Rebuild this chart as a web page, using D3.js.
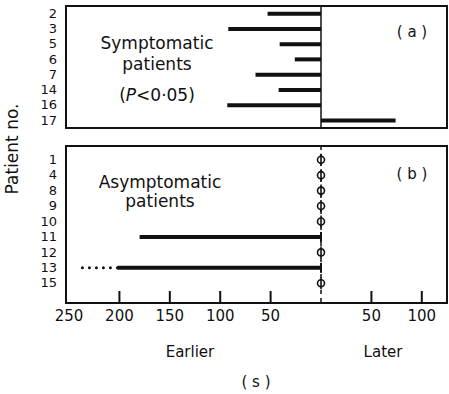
<!DOCTYPE html>
<html>
<head>
<meta charset="utf-8">
<script src="https://cdn.jsdelivr.net/npm/d3@7"></script>
<style>
  body { margin: 0; background: #fff; }
  text { font-family: "DejaVu Sans", sans-serif; fill: #111; }
</style>
</head>
<body>
<div id="chart"></div>
<script>
// panel (a): symptomatic patients
const patientsA = ["2", "3", "5", "6", "7", "14", "16", "17"];
const valuesA = [-53, -92, -41, -26, -65, -42, -93, 74];

// panel (b): asymptomatic patients (0 = no difference, drawn as phi)
const patientsB = ["1", "4", "8", "9", "10", "11", "12", "13", "15"];
const valuesB = [0, 0, 0, 0, 0, -180, 0, -202, 0];
const dottedB = [null, null, null, null, null, null, null, -238, null];

const xTicks = [-250, -200, -150, -100, -50, 0, 50, 100];

const width = 449;
const height = 394;

const svg = d3.select("#chart")
    .append("svg")
    .attr("width", width)
    .attr("height", height);

const x = d3.scaleLinear()
    .domain([-253, 125])
    .range([66, 447]);

const yA = d3.scaleBand()
    .domain(patientsA)
    .range([6, 128]);

const yB = d3.scaleBand()
    .domain(patientsB)
    .range([152, 291]);

// frames
svg.append("rect")
    .attr("x", x.range()[0]).attr("y", 6)
    .attr("width", x.range()[1] - x.range()[0]).attr("height", 122)
    .attr("fill", "none").attr("stroke", "#111").attr("stroke-width", 2);

svg.append("rect")
    .attr("x", x.range()[0]).attr("y", 146)
    .attr("width", x.range()[1] - x.range()[0]).attr("height", 157)
    .attr("fill", "none").attr("stroke", "#111").attr("stroke-width", 2);

// zero lines
svg.append("line")
    .attr("x1", x(0)).attr("x2", x(0))
    .attr("y1", 6).attr("y2", 128)
    .attr("stroke", "#111").attr("stroke-width", 1.5);

svg.append("line")
    .attr("x1", x(0)).attr("x2", x(0))
    .attr("y1", 146).attr("y2", 303)
    .attr("stroke", "#111").attr("stroke-width", 1.5)
    .attr("stroke-dasharray", "4,4");

// y axes (patient numbers)
const axA = svg.append("g")
    .attr("transform", "translate(" + (x.range()[0] - 7) + ",0)")
    .call(d3.axisLeft(yA).tickSize(0).tickPadding(2));
const axB = svg.append("g")
    .attr("transform", "translate(" + (x.range()[0] - 7) + ",0)")
    .call(d3.axisLeft(yB).tickSize(0).tickPadding(2));
[axA, axB].forEach(ax => {
    ax.select(".domain").remove();
    ax.selectAll("text")
        .attr("font-size", 13)
        .attr("font-family", "DejaVu Sans")
        .attr("fill", "#111");
});

// bars panel (a)
const dataA = patientsA.map((p, i) => ({ p: p, v: valuesA[i] }));
svg.selectAll(null)
    .data(dataA)
    .enter()
    .append("line")
    .attr("x1", d => x(0))
    .attr("x2", d => x(d.v))
    .attr("y1", d => yA(d.p) + yA.bandwidth() / 2)
    .attr("y2", d => yA(d.p) + yA.bandwidth() / 2)
    .attr("stroke", "#111")
    .attr("stroke-width", 4);

// bars panel (b)
const dataB = patientsB.map((p, i) => ({ p: p, v: valuesB[i], dot: dottedB[i] }));
const yc = d => yB(d.p) + yB.bandwidth() / 2;

svg.selectAll(null)
    .data(dataB.filter(d => d.v !== 0))
    .enter()
    .append("line")
    .attr("x1", d => x(0))
    .attr("x2", d => x(d.v))
    .attr("y1", yc)
    .attr("y2", yc)
    .attr("stroke", "#111")
    .attr("stroke-width", 4);

// end caps at zero
svg.selectAll(null)
    .data(dataB.filter(d => d.v !== 0))
    .enter()
    .append("line")
    .attr("x1", d => x(0)).attr("x2", d => x(0))
    .attr("y1", d => yc(d) - 5).attr("y2", d => yc(d) + 5)
    .attr("stroke", "#111").attr("stroke-width", 2);

// dotted extension
svg.selectAll(null)
    .data(dataB.filter(d => d.dot !== null))
    .enter()
    .append("line")
    .attr("x1", d => x(d.v))
    .attr("x2", d => x(d.dot))
    .attr("y1", yc)
    .attr("y2", yc)
    .attr("stroke", "#111")
    .attr("stroke-width", 3)
    .attr("stroke-linecap", "round")
    .attr("stroke-dasharray", "0,7");

// phi markers for no difference
const phi = svg.selectAll(null)
    .data(dataB.filter(d => d.v === 0))
    .enter()
    .append("g")
    .attr("transform", d => "translate(" + x(0) + "," + yc(d) + ")");
phi.append("ellipse")
    .attr("rx", 3.5).attr("ry", 3.5)
    .attr("fill", "#fff").attr("stroke", "#111").attr("stroke-width", 1.6);
phi.append("line")
    .attr("x1", 0).attr("x2", 0).attr("y1", -6).attr("y2", 6)
    .attr("stroke", "#111").attr("stroke-width", 1.6);

// x axis ticks inside the lower panel
svg.selectAll(null)
    .data(xTicks.filter(t => t > -250 && t !== 0))
    .enter()
    .append("line")
    .attr("x1", d => x(d)).attr("x2", d => x(d))
    .attr("y1", 303).attr("y2", 291)
    .attr("stroke", "#111").attr("stroke-width", 2);

svg.selectAll(null)
    .data(xTicks.filter(t => t !== 0))
    .enter()
    .append("text")
    .attr("x", d => x(d))
    .attr("y", 321)
    .attr("text-anchor", "middle")
    .attr("font-size", 15)
    .text(d => Math.abs(d));

svg.append("text")
    .attr("x", 190).attr("y", 357)
    .attr("text-anchor", "middle").attr("font-size", 15)
    .text("Earlier");
svg.append("text")
    .attr("x", 383).attr("y", 357)
    .attr("text-anchor", "middle").attr("font-size", 15)
    .text("Later");
svg.append("text")
    .attr("x", 256).attr("y", 387)
    .attr("text-anchor", "middle").attr("font-size", 15)
    .attr("xml:space", "preserve")
    .text("( s )");

// y label
svg.append("text")
    .attr("transform", "translate(18,149) rotate(-90)")
    .attr("text-anchor", "middle").attr("font-size", 17)
    .text("Patient no.");

// panel annotations
svg.append("text")
    .attr("x", 157).attr("y", 49)
    .attr("text-anchor", "middle").attr("font-size", 17)
    .text("Symptomatic");
svg.append("text")
    .attr("x", 157).attr("y", 70)
    .attr("text-anchor", "middle").attr("font-size", 17)
    .text("patients");
const pv = svg.append("text")
    .attr("x", 157).attr("y", 101)
    .attr("text-anchor", "middle").attr("font-size", 17);
pv.append("tspan").text("(");
pv.append("tspan").attr("font-style", "italic").text("P");
pv.append("tspan").text("<0·05)");

svg.append("text")
    .attr("x", 412).attr("y", 37)
    .attr("text-anchor", "middle").attr("font-size", 15)
    .attr("xml:space", "preserve")
    .text("( a )");

svg.append("text")
    .attr("x", 160).attr("y", 188)
    .attr("text-anchor", "middle").attr("font-size", 17)
    .text("Asymptomatic");
svg.append("text")
    .attr("x", 160).attr("y", 207)
    .attr("text-anchor", "middle").attr("font-size", 17)
    .text("patients");

svg.append("text")
    .attr("x", 412).attr("y", 179)
    .attr("text-anchor", "middle").attr("font-size", 15)
    .attr("xml:space", "preserve")
    .text("( b )");
</script>
</body>
</html>
